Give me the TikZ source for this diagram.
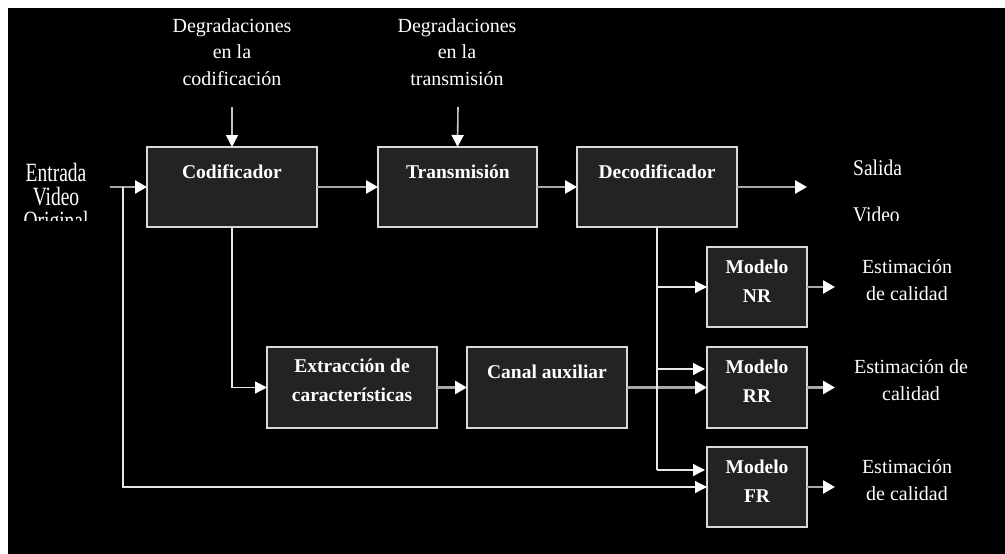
\documentclass[tikz,border=0pt]{standalone}
\usepackage{fontspec}
\setmainfont{Liberation Serif}
\usetikzlibrary{arrows.meta}
\definecolor{boxfill}{HTML}{232323}
\definecolor{boxline}{HTML}{D8D8D8}
\definecolor{mainline}{HTML}{A8A8A8}
\definecolor{thinline}{HTML}{E6E6E6}
\definecolor{medline}{HTML}{C8C8C8}
\begin{document}
\begin{tikzpicture}[x=1pt,y=-1pt,
  blk/.style={draw=boxline, fill=boxfill, line width=1.2pt, inner sep=0pt, outer sep=0pt, anchor=north west},
  lbl/.style={text=white, font=\bfseries\fontsize{19.5}{28.5}\selectfont, align=center, anchor=base, inner sep=0pt},
  txt/.style={text=white, font=\fontsize{20}{26.5}\selectfont, align=center, anchor=base, inner sep=0pt},
  sidetxt/.style={text=white, font=\fontsize{19.5}{24}\selectfont, inner sep=0pt},
  mainarr/.style={draw=mainline, line width=2.6pt, -{Triangle[length=12pt,width=13pt,color=white]}},
  medarr/.style={draw=medline, line width=1.6pt, -{Triangle[length=12pt,width=12pt,color=white]}},
  brarr/.style={draw=thinline, line width=1.3pt, -{Triangle[length=12pt,width=12pt,color=white]}},
  brline/.style={draw=thinline, line width=1.3pt}
]
\fill[white] (0,0) rectangle (1005,554);
\fill[black] (8,8) rectangle (1005,554);
\useasboundingbox (0,0) rectangle (1005,554);

% boxes
\node[blk, minimum width=170pt, minimum height=80pt] (cod) at (147,147) {};
\node[blk, minimum width=159pt, minimum height=80pt] (tra) at (378,147) {};
\node[blk, minimum width=160pt, minimum height=80pt] (dec) at (577,147) {};
\node[blk, minimum width=170pt, minimum height=81pt] (ext) at (267,347) {};
\node[blk, minimum width=160pt, minimum height=81pt] (can) at (467,347) {};
\node[blk, minimum width=100pt, minimum height=80pt] (nr) at (707,247) {};
\node[blk, minimum width=100pt, minimum height=81pt] (rr) at (707,347) {};
\node[blk, minimum width=100pt, minimum height=80pt] (fr) at (707,447) {};

% box labels (base = last line)
\node[lbl] (codT) at (232,178) {Codificador};
\node[lbl] (traT) at (458,178) {Transmisión};
\node[lbl] (decT) at (657,178) {Decodificador};
\node[lbl] (extT) at (352,401) {Extracción de\\características};
\node[lbl] (canT) at (547,378) {Canal auxiliar};
\node[lbl] (nrT) at (757,302) {Modelo\\NR};
\node[lbl] (rrT) at (757,402) {Modelo\\RR};
\node[lbl] (frT) at (757,502) {Modelo\\FR};

% top texts
\node[txt] (degc) at (232,85) {Degradaciones\\en la\\codificación};
\node[txt] (degt) at (457,85) {Degradaciones\\en la\\transmisión};

% estimation texts
\node[txt] (estNR) at (907,300) {Estimación\\de calidad};
\node[txt] (estRR) at (911,400) {Estimación de\\calidad};
\node[txt] (estFR) at (907,500) {Estimación\\de calidad};

% side texts (clipped)
\begin{scope}
\clip (8,8) rectangle (145,220);
\node[sidetxt, anchor=base] (ent1) at (56,181) {\scalebox{1}[1.35]{Entrada}};
\node[sidetxt, anchor=base] (ent2) at (56,205) {\scalebox{1}[1.35]{Video}};
\node[sidetxt, anchor=base] (ent3) at (56,229) {\scalebox{1}[1.35]{Original}};
\end{scope}
\begin{scope}
\clip (840,140) rectangle (1005,220);
\node[sidetxt, anchor=base west] (sal1) at (853,175) {\scalebox{1}[1.15]{Salida}};
\node[sidetxt, anchor=base west] (sal2) at (853,222) {\scalebox{1}[1.15]{Video}};
\end{scope}

% coordinates
\coordinate (inS) at (110,187);
\coordinate (j1) at (123,187);
\coordinate (outS) at (807,187);
\coordinate (d1) at (232,107);
\coordinate (d2) at (458,107);
\coordinate (rrA) at (705,369);
\coordinate (frA) at (705,470);
\coordinate (oNR) at (835,287);
\coordinate (oRR) at (835,387.5);
\coordinate (oFR) at (835,487);

% connectors
\draw[mainarr] (inS) -- (cod.west);
\draw[brarr] (j1) |- (fr.west);
\draw[mainarr] (cod.east) -- (tra.west);
\draw[mainarr] (tra.east) -- (dec.west);
\draw[mainarr] (dec.east) -- (outS);
\draw[medarr] (d1) -- (cod.north);
\draw[medarr] (d2) -- (tra.north);
\draw[brarr] (cod.south) |- (ext.west);
\draw[mainarr] (ext.east) -- (can.west);
\draw[mainarr] (can.east) -- (rr.west);
\draw[brline] (dec.south) -- (dec.south |- frA);
\draw[brarr] (dec.south |- frA) -- (frA);
\draw[brarr] (dec.south |- nr.west) -- (nr.west);
\draw[brarr] (dec.south |- rrA) -- (rrA);
\draw[mainarr] (nr.east) -- (oNR);
\draw[mainarr] (rr.east) -- (oRR);
\draw[mainarr] (fr.east) -- (oFR);
\end{tikzpicture}
\end{document}
